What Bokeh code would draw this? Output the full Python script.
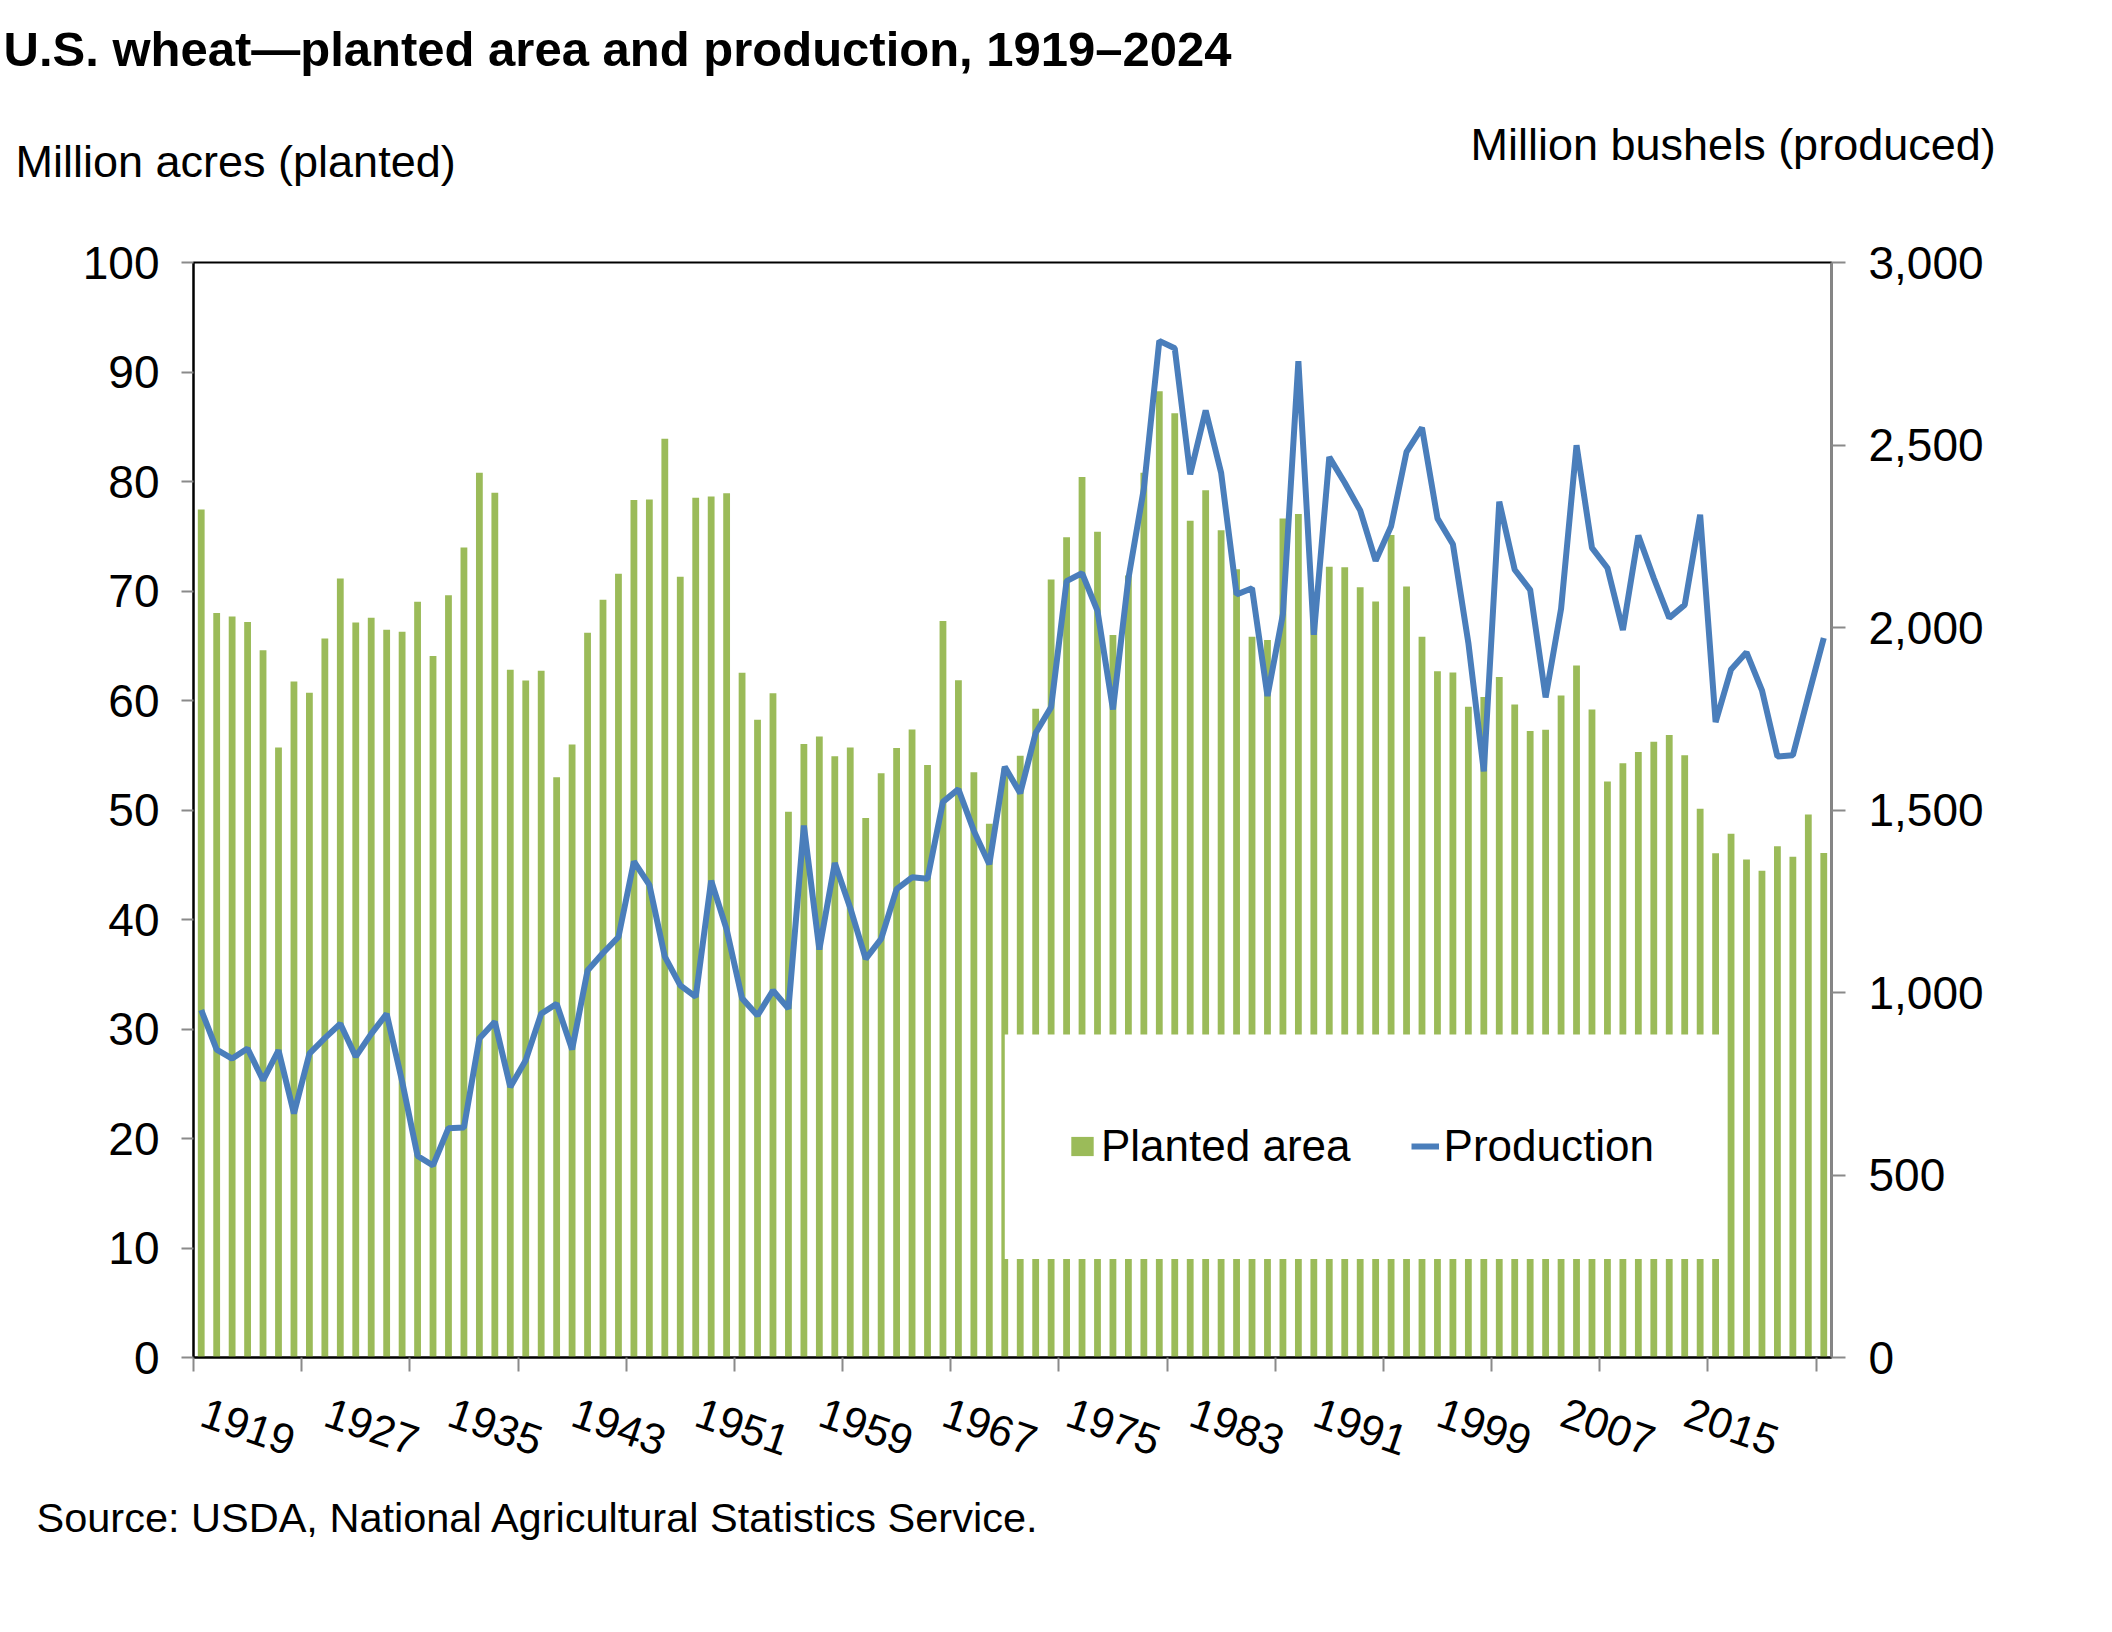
from bokeh.plotting import figure
from bokeh.layouts import column
from bokeh.models import (Range1d, LinearAxis, FixedTicker, CustomJSTickFormatter,
                          NumeralTickFormatter, Label, Legend, LegendItem, BoxAnnotation,
                          ColumnDataSource)
from bokeh.embed import file_html
from bokeh.resources import INLINE

# ---------------- data ----------------
years = list(range(1919, 2025))

planted_area = [  # million acres
    77.44, 67.98, 67.68, 67.16, 64.59, 55.71, 61.74, 60.71, 65.66, 71.15,
    67.12, 67.56, 66.46, 66.28, 69.01, 64.06, 69.61, 73.97, 80.81, 78.98,
    62.80, 61.82, 62.71, 53.00, 55.98, 66.19, 69.19, 71.58, 78.31, 78.35,
    83.91, 71.29, 78.52, 78.64, 78.93, 62.54, 58.25, 60.66, 49.84, 56.02,
    56.71, 54.91, 55.71, 49.27, 53.36, 55.67, 57.36, 54.11, 67.26, 61.86,
    53.45, 48.74, 53.82, 54.95, 59.25, 71.04, 74.90, 80.40, 75.41, 65.99,
    71.42, 80.79, 88.25, 86.23, 76.42, 79.21, 75.54, 71.99, 65.83, 65.53,
    76.62, 77.04, 69.88, 72.22, 72.17, 70.35, 69.03, 75.11, 70.41, 65.82,
    62.66, 62.55, 59.43, 60.32, 62.14, 59.64, 57.21, 57.33, 60.46, 63.19,
    59.17, 52.60, 54.28, 55.29, 56.24, 56.84, 54.99, 50.12, 46.05, 47.82,
    45.49, 44.45, 46.70, 45.74, 49.58, 46.08,
]

production = [  # million bushels
    952.1, 843.3, 819.0, 846.6, 759.5, 841.6, 668.7, 832.3, 875.1, 914.4,
    824.2, 886.5, 941.5, 756.3, 552.2, 526.1, 628.2, 629.9, 873.9, 919.9,
    741.2, 814.6, 942.0, 969.4, 843.8, 1060.1, 1108.2, 1152.1, 1358.9, 1294.9,
    1098.4, 1019.3, 988.2, 1306.4, 1173.1, 983.9, 937.1, 1005.4, 955.7, 1457.4,
    1117.7, 1354.7, 1231.7, 1092.0, 1146.8, 1283.4, 1315.6, 1311.7, 1522.4, 1557.0,
    1442.7, 1351.6, 1618.6, 1546.2, 1710.8, 1781.9, 2126.9, 2148.8, 2045.5, 1775.5,
    2134.1, 2380.9, 2785.4, 2765.0, 2419.8, 2594.8, 2424.1, 2090.6, 2107.7, 1812.2,
    2036.6, 2729.8, 1980.1, 2466.8, 2396.4, 2320.9, 2182.7, 2277.4, 2481.5, 2547.3,
    2299.0, 2228.2, 1957.6, 1605.9, 2344.8, 2158.2, 2103.3, 1808.4, 2051.1, 2499.2,
    2218.1, 2163.0, 1993.1, 2252.3, 2135.0, 2026.3, 2061.9, 2308.7, 1740.9, 1885.2,
    1932.0, 1828.0, 1646.4, 1650.2, 1812.0, 1971.0,
]

left_ticks = [0, 10, 20, 30, 40, 50, 60, 70, 80, 90, 100]
right_ticks = [0, 500, 1000, 1500, 2000, 2500, 3000]
label_years = [1919, 1927, 1935, 1943, 1951, 1959, 1967, 1975, 1983, 1991, 1999, 2007, 2015]
tick_mark_step = 7

title_text = "U.S. wheat\u2014planted area and production, 1919\u20132024"
left_title = "Million acres (planted)"
right_title = "Million bushels (produced)"
source_text = "Source: USDA, National Agricultural Statistics Service."

# ---------------- style ----------------
FONT = "Liberation Sans"
GREEN = "#9BBB59"
BLUE = "#4A7EBB"
TICK_GRAY = "#8A8A8A"

W = 2112
HEADER_H = 220
MAIN_H = 1260
FOOTER_H = 152


def text_panel(height):
    f = figure(width=W, height=height, output_backend="svg", toolbar_location=None,
               x_range=Range1d(0, W), y_range=Range1d(height, 0),
               min_border=0, x_axis_location=None, y_axis_location=None)
    f.title_location = None
    if "frame_align" in f.properties():
        f.frame_align = False
    f.grid.visible = False
    f.outline_line_color = None
    f.background_fill_color = "white"
    f.border_fill_color = "white"
    return f


def add_text(f, txt, x, y, size, bold=False):
    f.add_layout(Label(x=x, y=y, text=txt, text_font=FONT, text_font_size=size,
                       text_font_style="bold" if bold else "normal",
                       text_color="black", text_align="left",
                       text_baseline="alphabetic"))


# ---------------- header (title + axis titles) ----------------
header = text_panel(HEADER_H)
add_text(header, title_text, 3, 48, "49px", bold=True)
add_text(header, left_title, 15, 161, "45px")
add_text(header, right_title, 1470, 144, "45px")

# ---------------- main chart ----------------
src = ColumnDataSource(dict(year=years, area=planted_area, prod=production))

p = figure(width=W, height=MAIN_H, output_backend="svg", toolbar_location=None,
           x_range=Range1d(years[0] - 0.5, years[-1] + 0.5),
           y_range=Range1d(left_ticks[0], left_ticks[-1]),
           min_border_left=193, min_border_right=W - 1831,
           min_border_top=262 - HEADER_H, min_border_bottom=HEADER_H + MAIN_H - 1357)
p.extra_y_ranges = {"prod": Range1d(right_ticks[0], right_ticks[-1])}
p.xgrid.visible = False
p.ygrid.visible = False
p.background_fill_color = "white"
p.border_fill_color = "white"
p.outline_line_color = "black"
p.outline_line_width = 2

bars = p.vbar(x="year", top="area", width=0.44, source=src,
              fill_color=GREEN, line_color=None)
line = p.line(x="year", y="prod", source=src, y_range_name="prod",
              line_color=BLUE, line_width=6)

# ---- x axis ----
xa = p.xaxis[0]
minor = []
e = years[0] - 0.5
while e < years[-1]:
    minor.append(e)
    e += tick_mark_step
xa.ticker = FixedTicker(ticks=[y + 0.1 for y in label_years], minor_ticks=minor)
xa.formatter = CustomJSTickFormatter(code="return Math.floor(tick).toString();")
xa.major_tick_line_color = None
xa.major_tick_out = 0
xa.major_tick_in = 0
xa.minor_tick_line_color = TICK_GRAY
xa.minor_tick_line_width = 2
xa.minor_tick_out = 14
xa.minor_tick_in = 0
xa.axis_line_color = "black"
xa.axis_line_width = 2
xa.major_label_orientation = -0.33
xa.major_label_standoff = 40
xa.major_label_text_font = FONT
xa.major_label_text_font_size = "43px"
xa.major_label_text_color = "black"

# ---- left axis ----
ya = p.yaxis[0]
ya.ticker = FixedTicker(ticks=left_ticks)
ya.major_tick_line_color = TICK_GRAY
ya.major_tick_line_width = 2
ya.major_tick_out = 12
ya.major_tick_in = 0
ya.minor_tick_line_color = None
ya.axis_line_color = "black"
ya.axis_line_width = 2
ya.major_label_standoff = 22
ya.major_label_text_font = FONT
ya.major_label_text_font_size = "46px"
ya.major_label_text_color = "black"

# ---- right axis ----
ra = LinearAxis(y_range_name="prod", ticker=FixedTicker(ticks=right_ticks),
                formatter=NumeralTickFormatter(format="0,0"))
ra.major_tick_line_color = TICK_GRAY
ra.major_tick_line_width = 2
ra.major_tick_out = 14
ra.major_tick_in = 0
ra.minor_tick_line_color = None
ra.axis_line_color = "#868686"
ra.axis_line_width = 2.5
ra.major_label_standoff = 23
ra.major_label_text_font = FONT
ra.major_label_text_font_size = "46px"
ra.major_label_text_color = "black"
p.add_layout(ra, "right")

# ---- legend (white panel + items) ----
legend_panel = BoxAnnotation(left=1971.0, right=2017.5, bottom=9.0, top=29.5,
                             fill_color="white", fill_alpha=1.0, line_color=None)
p.add_layout(legend_panel)

legend = Legend(items=[LegendItem(label="Planted area", renderers=[bars]),
                       LegendItem(label="Production", renderers=[line])],
                orientation="horizontal", location=(875, 186),
                glyph_width=28, glyph_height=24, label_standoff=5, spacing=60,
                padding=0, margin=0, background_fill_alpha=0, border_line_color=None,
                label_text_font=FONT, label_text_font_size="44px",
                label_text_color="black")
p.add_layout(legend)

# ---------------- footer (source) ----------------
footer = text_panel(FOOTER_H)
add_text(footer, source_text, 36, 1529 - HEADER_H - MAIN_H - 12, "41.5px")

layout = column(header, p, footer, spacing=0)
open("out.html", "w").write(file_html(layout, INLINE))
